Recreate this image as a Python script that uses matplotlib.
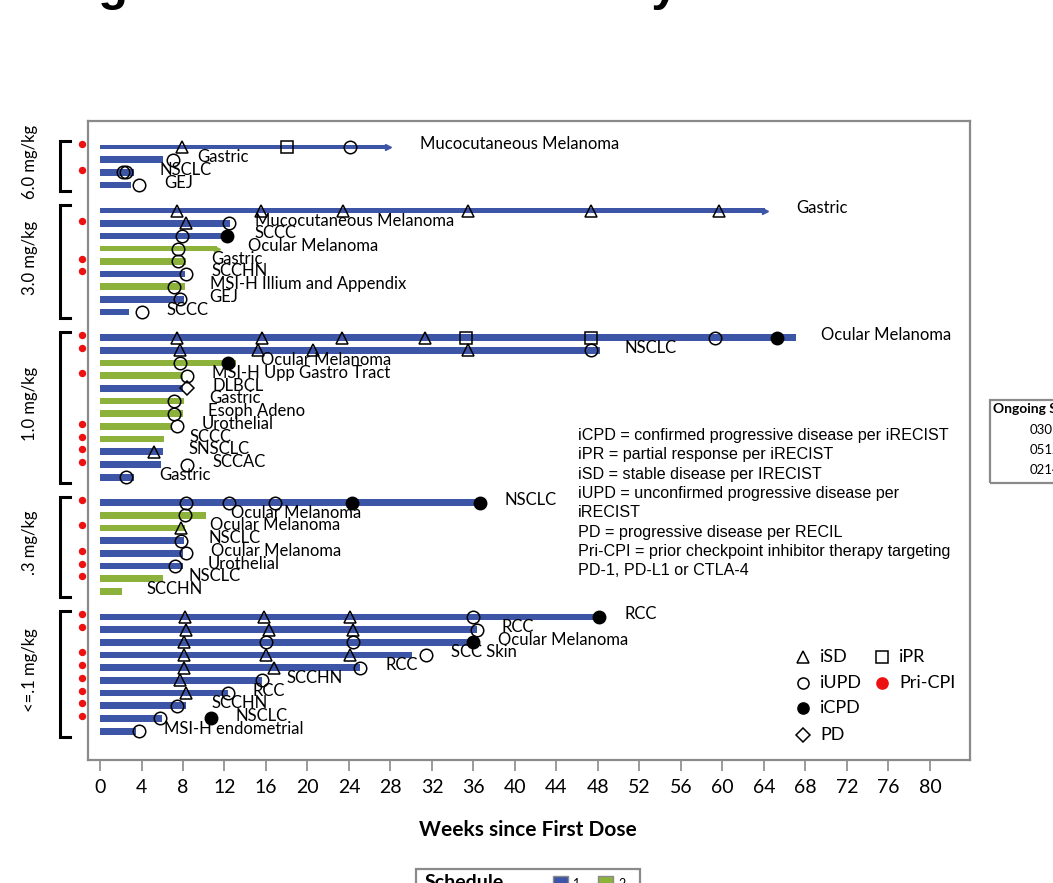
import matplotlib
matplotlib.use("Agg")
import matplotlib.pyplot as plt
from matplotlib.patches import Rectangle

W, H = 1053, 883

# dose cohorts, top to bottom
groups = ["6.0 mg/kg", "3.0 mg/kg", "1.0 mg/kg", ".3 mg/kg", "<=.1 mg/kg"]
group_sizes = [4, 9, 12, 8, 10]

tumor = [
    "Mucocutaneous Melanoma", "Gastric", "NSCLC", "GEJ",
    "Gastric", "Mucocutaneous Melanoma", "SCCC", "Ocular Melanoma", "Gastric",
    "SCCHN", "MSI-H Illium and Appendix", "GEJ", "SCCC",
    "Ocular Melanoma", "NSCLC", "Ocular Melanoma", "MSI-H Upp Gastro Tract",
    "DLBCL", "Gastric", "Esoph Adeno", "Urothelial", "SCCC", "SNSCLC", "SCCAC",
    "Gastric",
    "NSCLC", "Ocular Melanoma", "Ocular Melanoma", "NSCLC", "Ocular Melanoma",
    "Urothelial", "NSCLC", "SCCHN",
    "RCC", "RCC", "Ocular Melanoma", "SCC Skin", "RCC", "SCCHN", "RCC", "SCCHN",
    "NSCLC", "MSI-H endometrial",
]
weeks = [27.8, 6.1, 3.3, 3.0,
         64.1, 12.5, 12.5, 11.3, 8.3, 8.2, 8.2, 8.1, 2.8,
         67.1, 48.2, 13.1, 8.0, 8.0, 8.1, 8.0, 6.9, 6.2, 6.1, 5.9, 3.3,
         36.6, 10.2, 8.2, 8.1, 8.0, 8.0, 6.1, 2.1,
         48.2, 36.3, 36.0, 30.1, 25.1, 15.6, 12.3, 8.3, 6.0, 3.5]
schedule = [1, 1, 1, 1,
            1, 1, 1, 2, 2, 1, 2, 1, 1,
            1, 1, 2, 2, 1, 2, 2, 2, 2, 1, 1, 1,
            1, 2, 2, 1, 1, 1, 2, 2,
            1, 1, 1, 1, 1, 1, 1, 1, 1, 1]
ongoing = [1, 0, 0, 0,
           1, 0, 0, 1, 0, 0, 0, 0, 0,
           0, 0, 0, 0, 0, 0, 0, 0, 0, 0, 0, 0,
           0, 0, 0, 0, 0, 0, 0, 0,
           0, 0, 0, 0, 0, 0, 0, 0, 0, 0]
prior_cpi = [1, 0, 1, 0,
             0, 1, 0, 0, 1, 1, 0, 0, 0,
             1, 1, 0, 1, 0, 0, 0, 1, 1, 1, 1, 0,
             1, 0, 1, 0, 1, 1, 1, 0,
             1, 1, 0, 1, 1, 1, 1, 1, 1, 0]

# assessment times (weeks) per subject
isd = [[7.9], [], [], [],
       [7.4, 15.5, 23.4, 35.5, 47.3, 59.7], [8.3], [], [], [], [], [], [], [],
       [7.4, 15.6, 23.3, 31.3], [7.7, 15.2, 20.5, 35.5], [], [], [], [], [], [],
       [], [5.2], [], [],
       [], [], [7.8], [], [], [], [], [],
       [8.2, 15.8, 24.1], [8.3, 16.3, 24.4], [8.1], [8.1, 16.0, 24.1],
       [8.1, 16.8], [7.7], [8.3], [], [], []]
ipr = [[18.0], [], [], [],
       [], [], [], [], [], [], [], [], [],
       [35.3, 47.3], [], [], [], [], [], [], [], [], [], [], [],
       [], [], [], [], [], [], [], [],
       [], [], [], [], [], [], [], [], [], []]
iupd = [[24.1], [7.0], [2.2, 2.5], [3.8],
        [], [12.4], [7.9], [7.5], [7.5], [8.3], [7.1], [7.7], [4.0],
        [59.3], [47.3], [7.7], [8.4], [], [7.1], [7.1], [7.4], [], [], [8.4],
        [2.5],
        [8.3, 12.4, 16.9], [8.2], [], [7.8], [8.3], [7.2], [], [],
        [36.0], [36.3], [16.0, 24.4], [31.4], [25.1], [15.6], [12.3], [7.4],
        [5.8], [3.8]]
icpd = [[], [], [], [],
        [], [], [12.2], [], [], [], [], [], [],
        [65.3], [], [12.3], [], [], [], [], [], [], [], [], [],
        [24.3, 36.6], [], [], [], [], [], [], [],
        [48.1], [], [36.0], [], [], [], [], [], [10.7], []]
pd_wk = [[], [], [], [],
         [], [], [], [], [], [], [], [], [],
         [], [], [], [], [8.4], [], [], [], [], [], [], [],
         [], [], [], [], [], [], [], [],
         [], [], [], [], [], [], [], [], [], []]

x_ticks = list(range(0, 81, 4))

definitions = [
    "iCPD = confirmed progressive disease per iRECIST",
    "iPR = partial response per iRECIST",
    "iSD = stable disease per IRECIST",
    "iUPD = unconfirmed progressive disease per",
    "iRECIST",
    "PD = progressive disease per RECIL",
    "Pri-CPI = prior checkpoint inhibitor therapy targeting",
    "PD-1, PD-L1 or CTLA-4",
]
ongoing_ids = ["0301", "0512", "0214"]

BLUE = "#3d55a6"
GREEN = "#8db23c"
RED = "#ee1111"
GRAY = "#8a8a8a"
LABEL_FONT = ["Lato", "DejaVu Sans"]


def fx(px):
    return px / W


def fy(py):
    return 1 - py / H


# slot of each subject: one empty slot between cohorts
slots = []
group_span = []
s = 0
for n in group_sizes:
    group_span.append((s, s + n - 1))
    slots.extend(range(s, s + n))
    s += n + 1

fig = plt.figure(figsize=(W / 100, H / 100), dpi=100)
ax = fig.add_axes([fx(88), fy(760), fx(970) - fx(88), fy(121) - fy(760)])
ax.set_xlim(-1.157, 83.86)
ax.set_ylim(48.27, -2.05)

for i, y in enumerate(slots):
    col = BLUE if schedule[i] == 1 else GREEN
    if ongoing[i]:
        ax.barh(y, weeks[i], height=0.36, color=col, left=0)
        ax.plot(weeks[i], y, ">", color=col, ms=5, mec=col)
    else:
        ax.barh(y, weeks[i], height=0.53, color=col, left=0)

    ax.plot(isd[i], [y] * len(isd[i]), "^", ms=9, mfc="none", mec="black", mew=1.1)
    ax.plot(ipr[i], [y] * len(ipr[i]), "s", ms=8.5, mfc="none", mec="black", mew=1.1)
    ax.plot(iupd[i], [y] * len(iupd[i]), "o", ms=9, mfc="none", mec="black", mew=1.1)
    ax.plot(icpd[i], [y] * len(icpd[i]), "o", ms=9, mfc="black", mec="black")
    ax.plot(pd_wk[i], [y] * len(pd_wk[i]), "D", ms=7, mfc="none", mec="black", mew=1.1)

    last = max([weeks[i] + (0.6 if ongoing[i] else 0)] + isd[i] + ipr[i] + iupd[i] + icpd[i] + pd_wk[i])
    ax.text(last + 2.4, y - 0.2, tumor[i], fontsize=12, family=LABEL_FONT,
            va="center", ha="left")

    if prior_cpi[i]:
        ax.plot(-1.73, y - 0.2, "o", color=RED, ms=4.3, clip_on=False)

# cohort brackets and labels
for name, (a, b) in zip(groups, group_span):
    top, bot = a - 0.45, b + 0.45
    ax.plot([-2.9, -3.86, -3.86, -2.9], [top, top, bot, bot], color="black",
            lw=2.2, clip_on=False, solid_joinstyle="miter")
    ax.text(-6.75, (top + bot) / 2 - 0.3, name, rotation=90, fontsize=12,
            family=LABEL_FONT, ha="center", va="center", clip_on=False)

for sp in ax.spines.values():
    sp.set_color(GRAY)
    sp.set_linewidth(1.6)
ax.set_yticks([])
ax.set_xticks(x_ticks)
ax.tick_params(axis="x", direction="out", length=8, width=1.2, color=GRAY,
               pad=6, labelsize=14)
for lab in ax.get_xticklabels():
    lab.set_family(LABEL_FONT)

fig.text(fx(528), fy(830), "Weeks since First Dose", fontsize=15,
         fontweight="bold", family=LABEL_FONT, ha="center", va="center")

fig.text(fx(55), 1.0, "Figure 4. Duration of Study Treatment", fontsize=35,
         fontweight="bold", family=["Liberation Sans", "DejaVu Sans"],
         ha="left", va="baseline")

fig.text(fx(578), fy(428), "\n".join(definitions), fontsize=11.6,
         family=["Liberation Sans", "DejaVu Sans"], ha="left", va="top",
         linespacing=1.36)

# symbol key
key = [
    (803, 657, "^", "none", "black", "iSD"),
    (882, 657, "s", "none", "black", "iPR"),
    (803, 683, "o", "none", "black", "iUPD"),
    (882, 683, "o", RED, RED, "Pri-CPI"),
    (803, 708, "o", "black", "black", "iCPD"),
    (803, 735, "D", "none", "black", "PD"),
]
for kx, ky, m, fc, ec, txt in key:
    ax.plot(fx(kx), fy(ky), m, ms=8 if m != "D" else 7, mfc=fc, mec=ec, mew=1.1,
            transform=fig.transFigure, clip_on=False)
    fig.text(fx(kx + 17), fy(ky), txt, fontsize=13, family=LABEL_FONT,
             ha="left", va="center")

# ongoing subjects box
fig.patches.append(Rectangle((fx(990), fy(483)), fx(120), fy(400) - fy(483),
                             transform=fig.transFigure, fill=False,
                             edgecolor=GRAY, lw=1.6))
fig.text(fx(993), fy(409), "Ongoing Subjects", fontsize=10, fontweight="bold",
         family=LABEL_FONT, ha="left", va="center")
for k, sid in enumerate(ongoing_ids):
    fig.text(fx(1030), fy(430 + 20 * k), sid, fontsize=9.5, family=LABEL_FONT,
             ha="left", va="center")

# schedule key
fig.patches.append(Rectangle((fx(416), fy(900)), fx(224), fy(869) - fy(900),
                             transform=fig.transFigure, fill=False,
                             edgecolor=GRAY, lw=1.6))
fig.text(fx(425), fy(883), "Schedule", fontsize=14, fontweight="bold",
         family=LABEL_FONT, ha="left", va="center")
for k, (c, lab) in enumerate([(BLUE, "1"), (GREEN, "2")]):
    fig.patches.append(Rectangle((fx(553 + 45 * k), fy(890)), fx(15),
                                 fy(876) - fy(890), transform=fig.transFigure,
                                 facecolor=c, edgecolor=GRAY, lw=1))
    fig.text(fx(573 + 45 * k), fy(884), lab, fontsize=9, family=LABEL_FONT,
             ha="left", va="center")

fig.savefig("out.png", dpi=100)
